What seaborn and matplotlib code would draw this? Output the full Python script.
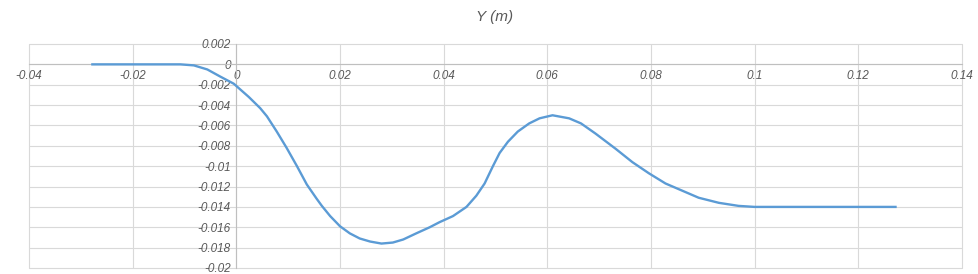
import matplotlib
matplotlib.use("Agg")
import matplotlib.pyplot as plt
import numpy as np
import pandas as pd
import seaborn as sns

title = "Y (m)"
x_m = [-0.028, -0.02, -0.0108, -0.0082, -0.0056, -0.0031, -0.0005, 0.0024, 0.0046, 0.0059,
       0.0078, 0.0097, 0.0117, 0.0136, 0.0155, 0.0165, 0.0181, 0.02, 0.0219, 0.0238,
       0.0258, 0.028, 0.0302, 0.0322, 0.0347, 0.0373, 0.0392, 0.0418, 0.0444, 0.0463,
       0.0479, 0.0495, 0.0508, 0.0524, 0.0543, 0.0565, 0.0585, 0.0610, 0.0642, 0.0665,
       0.0693, 0.0732, 0.0764, 0.0796, 0.0828, 0.0860, 0.0892, 0.0931, 0.0969, 0.1,
       0.1274]
y_m = [0.0, 0.0, 0.0, -0.0001, -0.0005, -0.0012, -0.0019, -0.0032, -0.0043, -0.0051,
       -0.0066, -0.0082, -0.0100, -0.0118, -0.0132, -0.0139, -0.0149, -0.0159, -0.0166, -0.0171,
       -0.0174, -0.0176, -0.0175, -0.0172, -0.0166, -0.0160, -0.0155, -0.0149, -0.0140, -0.0129,
       -0.0117, -0.0100, -0.0087, -0.0076, -0.0066, -0.0058, -0.0053, -0.0050, -0.0053, -0.0058,
       -0.0068, -0.0083, -0.0096, -0.0107, -0.0117, -0.0124, -0.0131, -0.0136, -0.0139, -0.0140,
       -0.0140]
x_ticks = [-0.04, -0.02, 0.0, 0.02, 0.04, 0.06, 0.08, 0.1, 0.12, 0.14]
y_ticks = [0.002, 0.0, -0.002, -0.004, -0.006, -0.008, -0.01, -0.012, -0.014, -0.016, -0.018, -0.02]

sns.set_theme(style="white")
plt.rcParams['font.family'] = ['Liberation Sans', 'DejaVu Sans']

W, H = 979, 274
fig = plt.figure(figsize=(W / 100, H / 100), dpi=100)
fig.patch.set_facecolor("white")
ax = fig.add_axes([29 / W, 1 - 268 / H, (962 - 29) / W, (268 - 44) / H])

df = pd.DataFrame({"x": x_m, "y": y_m})
sns.lineplot(data=df, x="x", y="y", sort=False, color="#5b9bd5", linewidth=1.7,
             ax=ax, zorder=3, solid_joinstyle="round", solid_capstyle="butt")

for s in ["top", "right"]:
    ax.spines[s].set_visible(False)
ax.spines["left"].set_position(("data", 0))
ax.spines["bottom"].set_position(("data", 0))
for s in ["left", "bottom"]:
    ax.spines[s].set_color("#bfbfbf")
    ax.spines[s].set_linewidth(0.8)

ax.set_xlim(x_ticks[0], x_ticks[-1])
ax.set_ylim(y_ticks[-1], y_ticks[0])
ax.set_xticks(x_ticks)
ax.set_yticks(y_ticks)
ax.set_xticklabels([f"{v:g}" for v in x_ticks])
ax.set_yticklabels([f"{v:g}" for v in y_ticks])
for lab in ax.get_xticklabels() + ax.get_yticklabels():
    lab.set_fontsize(8.5)
    lab.set_fontstyle("italic")
    lab.set_color("#595959")
ax.set_xlabel("")
ax.set_ylabel("")
ax.grid(True, color="#d9d9d9", linewidth=0.8, clip_on=False)
ax.set_axisbelow(True)
ax.tick_params(axis="both", length=0)
ax.tick_params(axis="x", pad=4)
ax.tick_params(axis="y", pad=4)

fig.text(495 / W, 1 - 17 / H, title, ha="center", va="center",
         fontsize=11, fontstyle="italic", color="#595959")

fig.savefig("out.png", dpi=100, facecolor="white")
